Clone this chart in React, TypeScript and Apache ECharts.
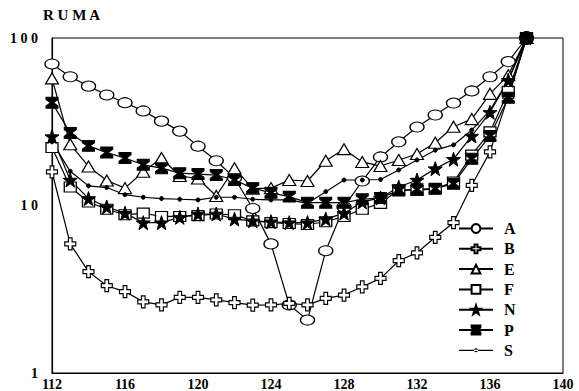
import React, { useEffect, useRef } from "react";
import * as echarts from "echarts";

const xValues = [112,113,114,115,116,117,118,119,120,121,122,123,124,125,126,127,128,129,130,131,132,133,134,135,136,137,138];
const seriesA = [70,58.7,51.6,45.7,41.1,36.7,31.9,27.8,22.6,18.5,14.6,9.6,5.9,2.55,2.07,5.37,9.8,14.0,19.5,24.0,29.4,34.7,40.9,48.3,58.7,72.3,100];
const seriesB = [15.9,5.9,4.03,3.32,3.06,2.66,2.55,2.83,2.83,2.73,2.63,2.54,2.55,2.6,2.55,2.79,2.92,3.27,3.67,4.68,5.22,6.46,7.89,13.2,20.9,45,100];
const seriesE = [57.4,23.2,17.1,14.1,12.7,15.9,19.2,15.0,14.5,11.4,16.7,12.6,12.7,14.2,14.0,18.5,21.7,18.2,17.2,18.7,20.3,23.7,29.5,32.8,46.4,60,100];
const seriesF = [22.2,12.9,10.5,9.5,8.8,9.0,8.6,8.6,8.7,8.9,8.8,8.1,7.9,7.8,7.7,8.0,8.6,9.5,10.3,12.4,12.3,12.6,13.8,20,27.5,48,100];
const seriesN = [25.8,14.2,11.0,9.8,9.0,7.9,7.9,8.5,8.9,8.9,8.3,8.1,8.0,7.9,7.9,8.3,9.0,10.5,11.1,12.9,14.2,16.6,18.9,26,36,56,100];
const seriesP = [41.1,27.1,22.7,20.7,19.2,17.5,16.7,15.6,15.4,15.2,14.2,12.7,11.9,11.3,10.4,10.4,10.4,10.9,11.1,12.3,12.5,12.6,13.5,19,26,44,100];
const seriesS = [24,16,13.1,12.8,11.6,11.2,11.0,10.9,10.8,11.2,11.2,10.9,10.8,10.8,10.3,12.1,14.2,14.2,14.3,16.3,18.7,21.4,23,28.2,37,56,100];
const convergence = [[138, 100]];
const seriesNames = ["A", "B", "E", "F", "N", "P", "S"];
const titleText = "R U M A";

const FONT = "'Liberation Serif', 'DejaVu Serif', serif";

const PLUS = "path://M4,0H8V4H12V8H8V12H4V8H0V4H4Z";
const STAR = "path://M10,0L12.35,6.76L19.51,6.91L13.8,11.24L15.88,18.09L10,14L4.12,18.09L6.2,11.24L0.49,6.91L7.65,6.76Z";
const HOURGLASS = "path://M0,0H12V2.5L7.5,6L12,9.5V12H0V9.5L4.5,6L0,2.5Z";
// legend icon for S: thin line with a small dot, bbox 34x11 kept by tiny corner marks
const S_ICON = "path://M0,0h0.05v0.05h-0.05Z M33.95,10.95h0.05v0.05h-0.05Z M0,4.9H34V6.1H0Z M15,5.5A2,2 0 1 0 19,5.5A2,2 0 1 0 15,5.5Z";

export default function App() {
  const ref = useRef<HTMLDivElement>(null);
  useEffect(() => {
    if (!ref.current) return;
    const chart = echarts.init(ref.current, null, { renderer: "svg" });
    const hollow = { color: "#fff", borderColor: "#000", borderWidth: 1.2 };
    const solid = { color: "#000", borderColor: "#000", borderWidth: 1 };
    const mk = (name: string, vals: number[], symbol: string, size: any, itemStyle: any) => ({
      name,
      type: "line",
      data: xValues.map((x, i) => [x, vals[i]]),
      symbol,
      symbolSize: size,
      showAllSymbol: true,
      clip: false,
      itemStyle,
      lineStyle: { color: "#000", width: 1.2 },
      emphasis: { disabled: true },
    });
    chart.setOption({
      animation: false,
      backgroundColor: "#fff",
      title: {
        text: titleText,
        left: 38,
        top: 2,
        textStyle: { fontFamily: FONT, fontWeight: "bold", fontSize: 15, color: "#000" },
      },
      grid: { left: 52, right: 16, top: 38, bottom: 18, show: true, borderColor: "#000", borderWidth: 1, backgroundColor: "transparent" },
      legend: {
        data: seriesNames.map((n) =>
          n === "S" ? { name: n, icon: S_ICON, itemStyle: { color: "#000", borderWidth: 0 } } : { name: n }
        ),
        orient: "vertical",
        left: 458,
        top: 220,
        height: 170,
        padding: 0,
        itemWidth: 34,
        itemHeight: 11,
        itemGap: 3.3,
        textStyle: { fontFamily: FONT, fontWeight: "bold", fontSize: 16, lineHeight: 17, color: "#000", padding: [0, 0, 0, 6] },
      },
      xAxis: {
        type: "value",
        min: 112,
        max: 140,
        interval: 4,
        axisLine: { show: true, lineStyle: { color: "#000", width: 1.2 } },
        axisTick: { show: false },
        splitLine: { show: false },
        axisLabel: { margin: 4, fontFamily: FONT, fontWeight: "bold", fontSize: 14, color: "#000" },
      },
      yAxis: {
        type: "log",
        logBase: 10,
        min: 1,
        max: 100,
        axisLine: { show: true, lineStyle: { color: "#000", width: 1.2 } },
        axisTick: { show: false },
        splitLine: { show: false },
        minorTick: { show: false },
        axisLabel: {
          margin: 14,
          fontFamily: FONT,
          fontWeight: "bold",
          fontSize: 14,
          color: "#000",
          formatter: (v: number) => String(Math.round(v)).split("").join(" "),
        },
      },
      series: [
        mk("A", seriesA, "circle", [14, 10], hollow),
        mk("B", seriesB, PLUS, [11, 12], hollow),
        mk("E", seriesE, "triangle", [13, 11], hollow),
        mk("F", seriesF, "rect", [12, 10], hollow),
        mk("N", seriesN, STAR, 14, solid),
        mk("P", seriesP, HOURGLASS, [12, 11], solid),
        mk("S", seriesS, "circle", 4, solid),
        {
          name: "end",
          type: "scatter",
          data: convergence,
          symbol: "circle",
          symbolSize: 14,
          clip: false,
          z: 5,
          itemStyle: { color: "#000" },
          emphasis: { disabled: true },
        },
      ],
    });
    return () => chart.dispose();
  }, []);
  return <div ref={ref} style={{ position: "fixed", left: 0, top: 0, width: 579, height: 391 }} />;
}
